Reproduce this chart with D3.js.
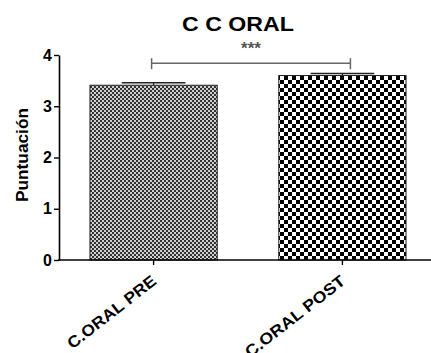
<!DOCTYPE html>
<html>
<head>
<meta charset="utf-8">
<script src="https://cdn.jsdelivr.net/npm/d3@7"></script>
<style>
  body { margin: 0; background: #fff; }
  text { font-family: "Liberation Sans", Arial, sans-serif; font-weight: bold; }
</style>
</head>
<body>
<div id="chart"></div>
<script>
// Data
var categories = ["C.ORAL PRE", "C.ORAL POST"];
var means = [3.41, 3.60];
var errors = [0.05, 0.04];
var yTicks = [0, 1, 2, 3, 4];
var titleText = "C C ORAL";
var yLabel = "Puntuación";
var sigLabel = "***";

var W = 431, H = 353;

var svg = d3.select("#chart")
            .append("svg")
            .attr("width", W)
            .attr("height", H);

var y = d3.scaleLinear().domain([0, 4]).range([260, 55]);
var x = d3.scaleBand()
          .domain(categories)
          .range([59, 437])
          .paddingInner(0.326)
          .paddingOuter(0.164);

// patterns
var defs = svg.append("defs");
var fine = defs.append("pattern")
               .attr("id", "fine")
               .attr("patternUnits", "userSpaceOnUse")
               .attr("width", 4).attr("height", 4);
fine.append("rect").attr("width", 4).attr("height", 4).attr("fill", "#cfcfcf");
fine.append("rect").attr("x", 0).attr("y", 0).attr("width", 2).attr("height", 2).attr("fill", "#333");
fine.append("rect").attr("x", 2).attr("y", 2).attr("width", 2).attr("height", 2).attr("fill", "#333");

var coarse = defs.append("pattern")
                 .attr("id", "coarse")
                 .attr("patternUnits", "userSpaceOnUse")
                 .attr("width", 8).attr("height", 8);
coarse.append("rect").attr("width", 8).attr("height", 8).attr("fill", "#fff");
coarse.append("rect").attr("x", 0).attr("y", 0).attr("width", 4).attr("height", 4).attr("fill", "#000");
coarse.append("rect").attr("x", 4).attr("y", 4).attr("width", 4).attr("height", 4).attr("fill", "#000");

var fills = ["url(#fine)", "url(#coarse)"];

// bars
svg.selectAll("rect.bar")
   .data(categories)
   .enter()
   .append("rect")
   .attr("class", "bar")
   .attr("x", function(d) { return x(d); })
   .attr("y", function(d, i) { return y(means[i]); })
   .attr("width", x.bandwidth())
   .attr("height", function(d, i) { return y(0) - y(means[i]); })
   .attr("fill", function(d, i) { return fills[i]; })
   .attr("stroke", "#222")
   .attr("stroke-width", 1);

// error bars
categories.forEach(function(c, i) {
    var cx = x(c) + x.bandwidth() / 2,
        half = x.bandwidth() / 4;
    svg.append("line")
       .attr("x1", cx).attr("x2", cx)
       .attr("y1", y(means[i])).attr("y2", y(means[i] + errors[i]))
       .attr("stroke", "#222").attr("stroke-width", 1.2);
    svg.append("line")
       .attr("x1", cx - half).attr("x2", cx + half)
       .attr("y1", y(means[i] + errors[i])).attr("y2", y(means[i] + errors[i]))
       .attr("stroke", "#222").attr("stroke-width", 1.5);
});

// y axis
var yAxis = svg.append("g")
               .attr("transform", "translate(59,0)")
               .call(d3.axisLeft(y).tickValues(yTicks).tickFormat(d3.format("d")).tickSize(5).tickSizeOuter(0));
yAxis.select(".domain").attr("stroke", "#000").attr("stroke-width", 1.6);
yAxis.selectAll(".tick line").attr("stroke", "#000").attr("stroke-width", 1.4);
yAxis.selectAll(".tick text")
     .attr("x", -7)
     .attr("fill", "#000")
     .style("font-size", "16px")
     .style("font-family", "Liberation Sans, Arial, sans-serif")
     .style("font-weight", "bold");

// x axis
svg.append("line")
   .attr("x1", 58).attr("x2", W)
   .attr("y1", y(0)).attr("y2", y(0))
   .attr("stroke", "#000").attr("stroke-width", 1.6);

categories.forEach(function(c, i) {
    var cx = x(c) + x.bandwidth() / 2;
    svg.append("line")
       .attr("x1", cx).attr("x2", cx)
       .attr("y1", y(0)).attr("y2", y(0) + 5)
       .attr("stroke", "#000").attr("stroke-width", 1.4);
    svg.append("text")
       .attr("transform", "translate(" + (cx + 4) + "," + 283 + ") rotate(-38)")
       .attr("text-anchor", "end")
       .style("font-size", "16px")
       .attr("textLength", i === 0 ? 108 : 122)
       .attr("lengthAdjust", "spacingAndGlyphs")
       .text(c);
});

// y label
svg.append("text")
   .attr("transform", "translate(28,155) rotate(-90)")
   .attr("text-anchor", "middle")
   .style("font-size", "17px")
   .attr("textLength", 94)
   .attr("lengthAdjust", "spacingAndGlyphs")
   .text(yLabel);

// title
svg.append("text")
   .attr("x", 238).attr("y", 31)
   .attr("text-anchor", "middle")
   .style("font-size", "20px")
   .attr("textLength", 112)
   .attr("lengthAdjust", "spacingAndGlyphs")
   .text(titleText);

// significance bracket
var bx1 = x(categories[0]) + x.bandwidth() / 2 - 2,
    bx2 = x(categories[1]) + x.bandwidth() / 2 + 8,
    by = y(3.84);
svg.append("line")
   .attr("x1", bx1).attr("x2", bx2).attr("y1", by).attr("y2", by)
   .attr("stroke", "#666").attr("stroke-width", 1.5);
[bx1, bx2].forEach(function(bx) {
    svg.append("line")
       .attr("x1", bx).attr("x2", bx).attr("y1", by - 5).attr("y2", by + 6)
       .attr("stroke", "#666").attr("stroke-width", 1.5);
});
svg.append("text")
   .attr("x", (bx1 + bx2) / 2).attr("y", 54)
   .attr("text-anchor", "middle")
   .attr("fill", "#555")
   .style("font-size", "17px")
   .text(sigLabel);
</script>
</body>
</html>
